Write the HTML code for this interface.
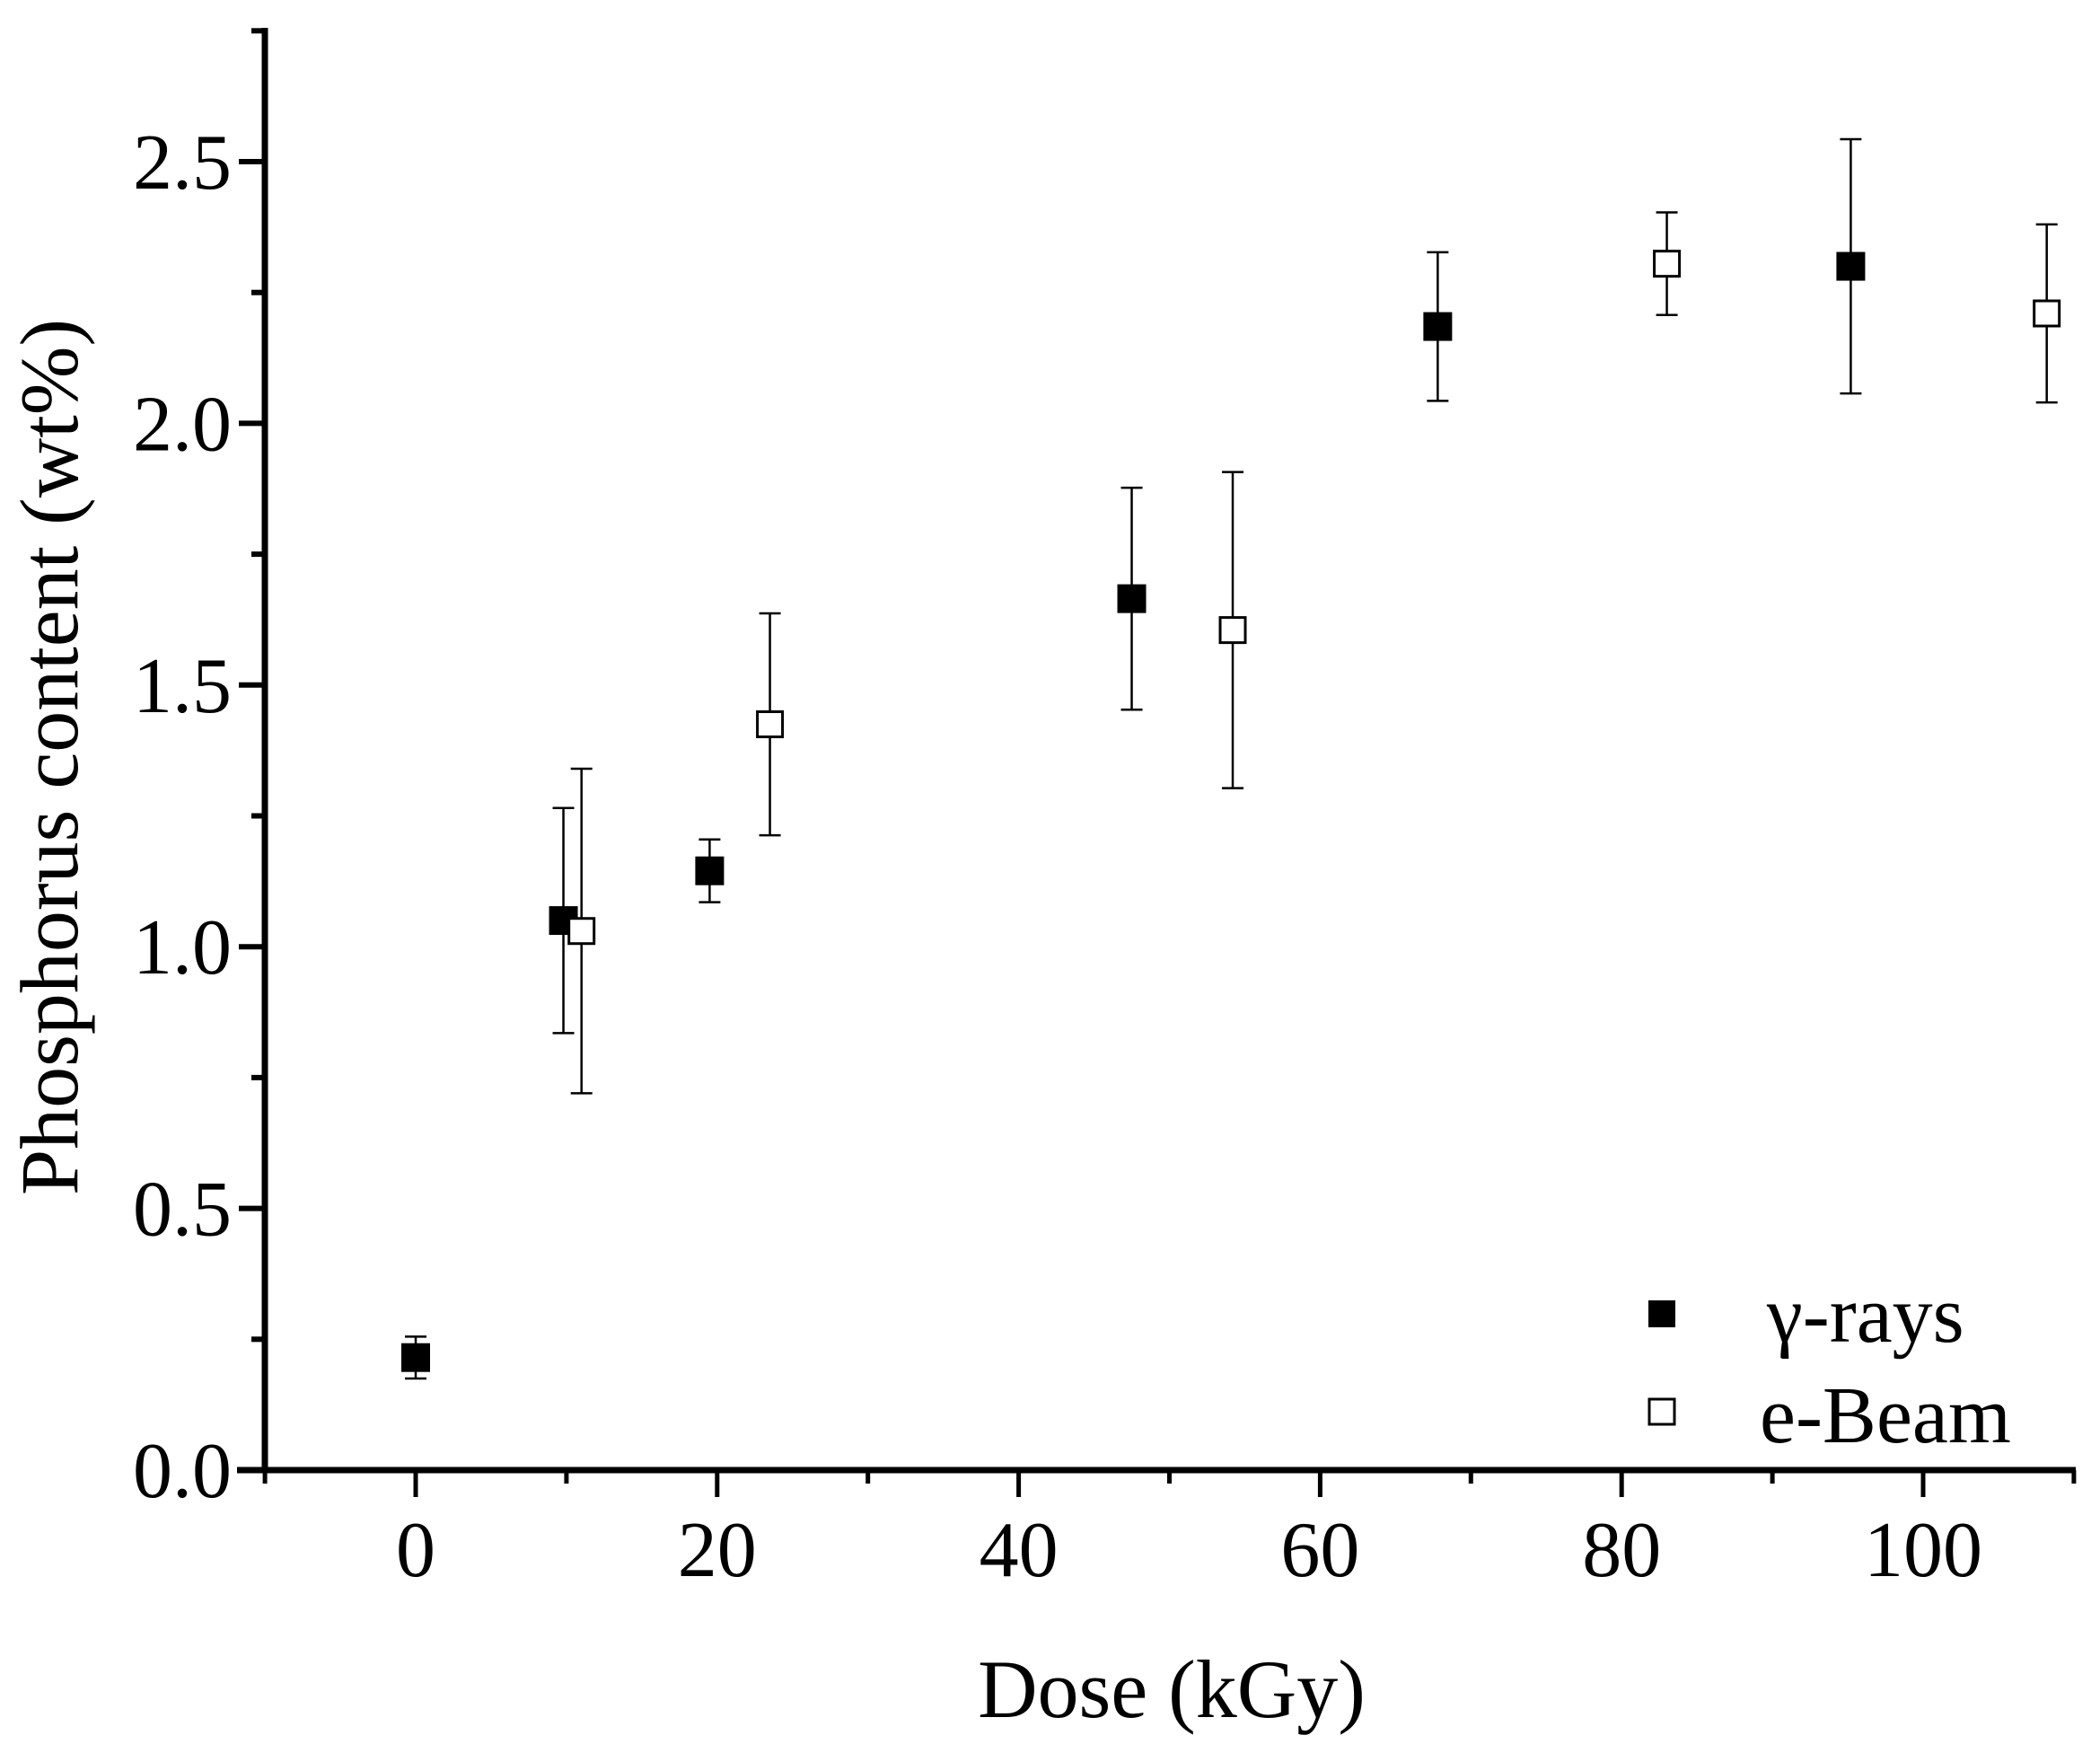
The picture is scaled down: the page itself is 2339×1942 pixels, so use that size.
<!DOCTYPE html>
<html><head><meta charset="utf-8"><style>body{margin:0;background:#fff}svg{display:block}text{font-family:"Liberation Serif",serif;fill:#000}</style></head>
<body>
<svg id="chart" width="2339" height="1942" viewBox="0 0 2339 1942" xmlns="http://www.w3.org/2000/svg">
<g id="axes"></g><g id="marks"></g>
<g>
<rect x="1836" y="1448" width="30" height="30" fill="#000"/>
<text x="1968" y="1494" font-size="90">γ-rays</text>
<rect x="1837" y="1558" width="28" height="28" fill="#fff" stroke="#000" stroke-width="3"/>
<text x="1960" y="1606" font-size="90">e-Beam</text>
</g>
<text x="1305" y="1912" font-size="92" text-anchor="middle">Dose (kGy)</text>
<text transform="translate(86,843) rotate(-90)" font-size="92" text-anchor="middle">Phosphorus content (wt%)</text>
</svg>
<script>
const xTicks=[0,20,40,60,80,100];
const yTicks=[0.0,0.5,1.0,1.5,2.0,2.5];
const yTickLabels=["0.0","0.5","1.0","1.5","2.0","2.5"];
const gammaX=[0,9.8,19.5,47.5,67.8,95.2];
const gammaY=[0.215,1.05,1.145,1.665,2.185,2.30];
const gammaErr=[0.04,0.215,0.06,0.212,0.142,0.243];
const ebeamX=[11,23.5,54.2,83,108.2];
const ebeamY=[1.03,1.425,1.605,2.305,2.21];
const ebeamErr=[0.31,0.212,0.302,0.098,0.17];
const NS="http://www.w3.org/2000/svg";
const X=v=>463+v*16.79, Y=v=>1637-v*582.8;
function mk(tag,attrs,parent,txt){const e=document.createElementNS(NS,tag);for(const k in attrs)e.setAttribute(k,attrs[k]);if(txt!==undefined)e.textContent=txt;parent.appendChild(e);return e;}
const ax=document.getElementById('axes'), mg=document.getElementById('marks');
let e=mk('line',{x1:264,y1:1637,x2:2312,y2:1637,stroke:'#000','stroke-width':7},ax);


e=mk('line',{x1:295,y1:31,x2:295,y2:1640,stroke:'#000','stroke-width':7},ax);


for(let v=-10;v<=110;v+=10){const maj=v%20===0;e=mk('line',{x1:X(v),y1:1637,x2:X(v),y2:maj?1667:1652,stroke:'#000','stroke-width':5},ax);

}
xTicks.forEach(v=>{e=mk('text',{x:X(v),y:1755,'font-size':88,'text-anchor':'middle'},ax,String(v));

});
for(let v=0;v<=2.76;v+=0.25){const maj=Math.abs(v*2-Math.round(v*2))<1e-6;e=mk('line',{x1:maj?266:280,y1:Y(v),x2:295,y2:Y(v),stroke:'#000','stroke-width':6},ax);

}
yTicks.forEach((v,i)=>{e=mk('text',{x:258,y:Y(v)+30,'font-size':88,'text-anchor':'end'},ax,yTickLabels[i]);

});
function series(xs,ys,es,filled,name){xs.forEach((x,i)=>{const cx=X(x),t=Y(ys[i]+es[i]),b=Y(ys[i]-es[i]);
const g=mk('g',{},mg);


mk('line',{x1:cx,y1:t,x2:cx,y2:b,stroke:'#000','stroke-width':2.5},g);
mk('line',{x1:cx-12,y1:t,x2:cx+12,y2:t,stroke:'#000','stroke-width':2.5},g);
mk('line',{x1:cx-12,y1:b,x2:cx+12,y2:b,stroke:'#000','stroke-width':2.5},g);
if(filled)mk('rect',{x:cx-16,y:Y(ys[i])-16,width:32,height:32,fill:'#000'},g);
else mk('rect',{x:cx-14,y:Y(ys[i])-14,width:28,height:28,fill:'#fff',stroke:'#000','stroke-width':3},g);});}
series(gammaX,gammaY,gammaErr,true,'gamma');
series(ebeamX,ebeamY,ebeamErr,false,'ebeam');
</script>
</body></html>
